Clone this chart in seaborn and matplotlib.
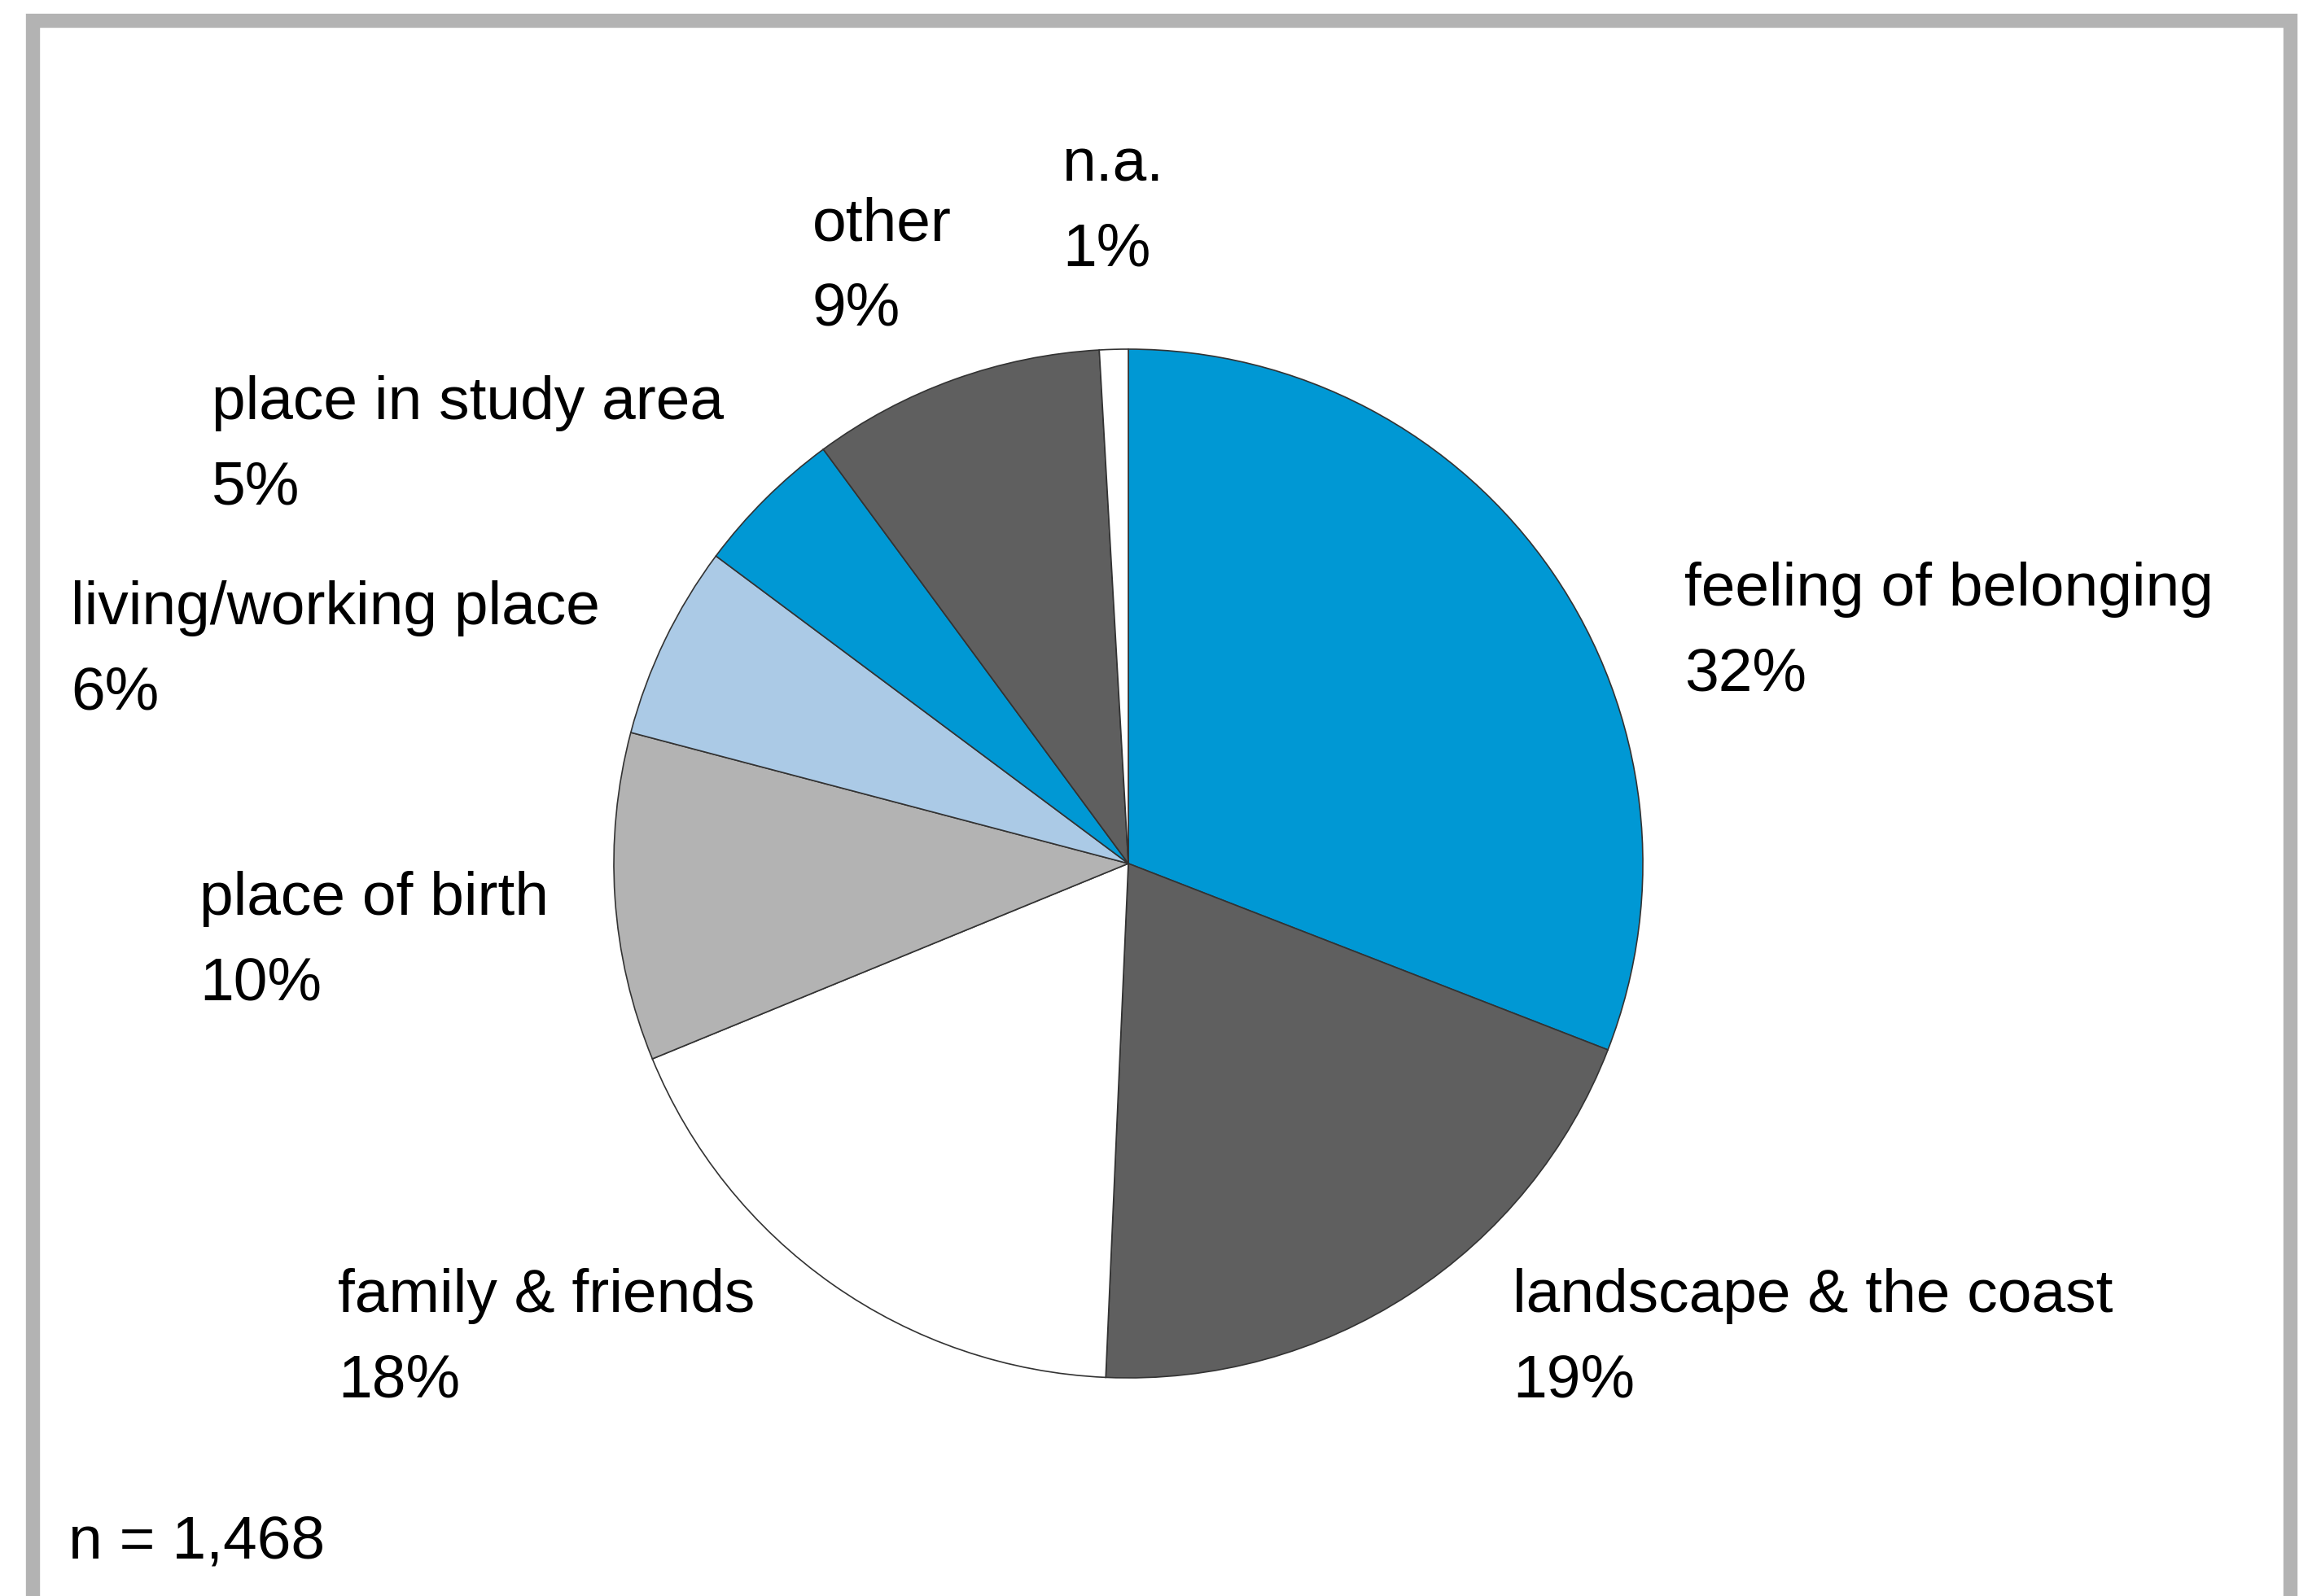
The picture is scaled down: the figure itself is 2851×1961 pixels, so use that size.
import matplotlib.pyplot as plt
import seaborn as sns
from matplotlib.patches import Rectangle

sns.set_theme(style="white")
plt.rcParams["font.family"] = ["Liberation Sans", "DejaVu Sans"]

# slices clockwise from 12 o'clock, shares
categories = [
    "feeling of belonging",
    "landscape & the coast",
    "family & friends",
    "place of birth",
    "living/working place",
    "place in study area",
    "other",
    "n.a.",
]
shares = [30.9, 19.8, 18.1, 10.3, 6.1, 4.7, 9.2, 0.9]
pct_labels = ["32%", "19%", "18%", "10%", "6%", "5%", "9%", "1%"]
colors = ["#0098d4", "#5f5f5f", "#ffffff", "#b3b3b3", "#abcae6", "#0098d4", "#5f5f5f", "#ffffff"]
n_total = "1,468"

W, H = 2851, 1961
fig = plt.figure(figsize=(W / 100, H / 100), dpi=100)
ax = fig.add_axes([0, 0, 1, 1])

ax.pie(
    shares,
    colors=colors,
    startangle=90,
    counterclock=False,
    center=(1386, H - 1061),
    radius=632,
    wedgeprops=dict(edgecolor="#333333", linewidth=1.2),
    frame=True,
)
ax.set_xlim(0, W)
ax.set_ylim(0, H)
ax.axis("off")

# label block positions (left x, block centre y) in pixel layout
label_pos = [
    (2069, 777),
    (1858, 1645),
    (415, 1645),
    (245, 1157),
    (87, 800),
    (260, 548),
    (998, 328),
    (1305, 255),
]
for name, pct, (x, y) in zip(categories, pct_labels, label_pos):
    ax.text(x, H - y, f"{name}\n{pct}", ha="left", va="center",
            fontsize=54, linespacing=1.66, color="black")

ax.text(84, H - 1895, f"n = {n_total}", ha="left", va="center", fontsize=54, color="black")

# grey frame around the chart, running off the bottom edge
frame = Rectangle((40, -100), 2773, H - 25 + 100, fill=False,
                  edgecolor="#b3b3b3", linewidth=12.5, transform=ax.transData)
ax.add_patch(frame)

fig.savefig("out.png", dpi=100, facecolor="white")
